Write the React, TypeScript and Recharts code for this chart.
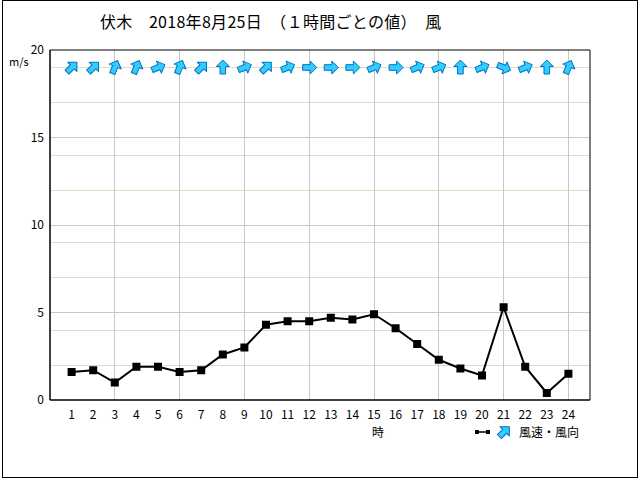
import { CartesianGrid, ComposedChart, Line, ReferenceArea, Scatter, XAxis, YAxis } from "recharts";

const hours = [1, 2, 3, 4, 5, 6, 7, 8, 9, 10, 11, 12, 13, 14, 15, 16, 17, 18, 19, 20, 21, 22, 23, 24];
const speed = [1.6, 1.7, 1.0, 1.9, 1.9, 1.6, 1.7, 2.6, 3.0, 4.3, 4.5, 4.5, 4.7, 4.6, 4.9, 4.1, 3.2, 2.3, 1.8, 1.4, 5.3, 1.9, 0.4, 1.5];
// arrow heading in degrees clockwise from north
const direction = [45, 45, 22.5, 22.5, 67.5, 22.5, 45, 0, 67.5, 45, 67.5, 90, 90, 90, 67.5, 90, 67.5, 67.5, 0, 67.5, 112.5, 67.5, 0, 22.5];
const yTicks = [0, 5, 10, 15, 20];
const minorY = [1, 2, 3, 4, 6, 7, 8, 9, 11, 12, 13, 14, 16, 17, 18, 19];
const majorY = [5, 10, 15];
const majorX = [3, 6, 9, 12, 15, 18, 21, 24];

const ARROW_ROW = 19;
const FONT = '"Noto Sans CJK JP", "Noto Sans", sans-serif';

const speedData = hours.map((h, i) => ({ hour: h, speed: speed[i] }));
const arrowData = hours.map((h, i) => ({ hour: h, row: ARROW_ROW, dir: direction[i] }));

const ARROW_PATH = "M0,-7.5 L6.5,-1 L2.8,-1 L2.8,6.5 L-2.8,6.5 L-2.8,-1 L-6.5,-1 Z";

const Arrow = (props: any) => {
  const { cx, cy, payload } = props;
  if (cx == null || cy == null) return null;
  return (
    <path
      d={ARROW_PATH}
      transform={`translate(${cx},${cy}) rotate(${payload.dir})`}
      fill="#33ccff"
      stroke="#0070c0"
      strokeWidth={1}
      strokeLinejoin="round"
    />
  );
};

const SquareDot = (props: any) => {
  const { cx, cy } = props;
  if (cx == null || cy == null) return null;
  return <rect x={cx - 4} y={cy - 4} width={8} height={8} fill="#000" />;
};

const textStyle = {
  position: "absolute" as const,
  fontFamily: FONT,
  color: "#000",
  whiteSpace: "pre" as const,
  lineHeight: 1,
};

export default function App() {
  return (
    <div style={{ position: "absolute", left: 0, top: 0, width: 640, height: 480, background: "#fff" }}>
      <div
        style={{
          position: "absolute",
          left: 2,
          top: 0,
          width: 636,
          height: 478,
          border: "1px solid #000",
          boxSizing: "border-box",
        }}
      />
      <ComposedChart
        width={640}
        height={480}
        margin={{ top: 50, right: 50, left: 0, bottom: 0 }}
        style={{ position: "absolute", left: 0, top: 0 }}
      >
        <CartesianGrid horizontalValues={minorY} vertical={false} stroke="#e4dac0" shapeRendering="crispEdges" />
        <CartesianGrid
          horizontalValues={majorY}
          verticalValues={majorX}
          stroke="#c8c8c8"
          shapeRendering="crispEdges"
        />
        <XAxis
          dataKey="hour"
          type="number"
          domain={[0, 25]}
          ticks={hours}
          interval={0}
          tickLine={false}
          tickMargin={4}
          height={80}
          axisLine={{ stroke: "#000" }}
          tick={{ fill: "#000", fontSize: 12, fontFamily: FONT }}
        />
        <YAxis
          type="number"
          domain={[0, 20]}
          ticks={yTicks}
          width={50}
          tickLine={false}
          tickSize={4}
          tickMargin={2}
          axisLine={{ stroke: "#000" }}
          tick={{ fill: "#000", fontSize: 12, fontFamily: FONT }}
        />
        <ReferenceArea x1={0} x2={25} y1={0} y2={20} fill="none" stroke="#000" strokeWidth={1} />
        <Line
          data={speedData}
          dataKey="speed"
          stroke="#000"
          strokeWidth={2}
          dot={<SquareDot />}
          activeDot={false}
          isAnimationActive={false}
        />
        <Scatter data={arrowData} dataKey="row" shape={<Arrow />} isAnimationActive={false} />
      </ComposedChart>
      <div style={{ ...textStyle, left: 100, top: 13, fontSize: 16, letterSpacing: 0.3 }}>
        {"伏木　2018年8月25日　（１時間ごとの値）　風"}
      </div>
      <div style={{ ...textStyle, left: 9, top: 56, fontSize: 11 }}>m/s</div>
      <div style={{ ...textStyle, left: 372, top: 426, fontSize: 12 }}>時</div>
      <svg style={{ position: "absolute", left: 474, top: 425 }} width={40} height={14}>
        <line x1={2} y1={7} x2={15} y2={7} stroke="#000" strokeWidth={1.5} />
        <rect x={1} y={5} width={4} height={4} fill="#000" />
        <rect x={12} y={5} width={4} height={4} fill="#000" />
        <path d={ARROW_PATH} transform="translate(30,7) rotate(45)" fill="#33ccff" stroke="#0070c0" strokeWidth={1} />
      </svg>
      <div style={{ ...textStyle, left: 519, top: 426, fontSize: 12 }}>風速・風向</div>
    </div>
  );
}
